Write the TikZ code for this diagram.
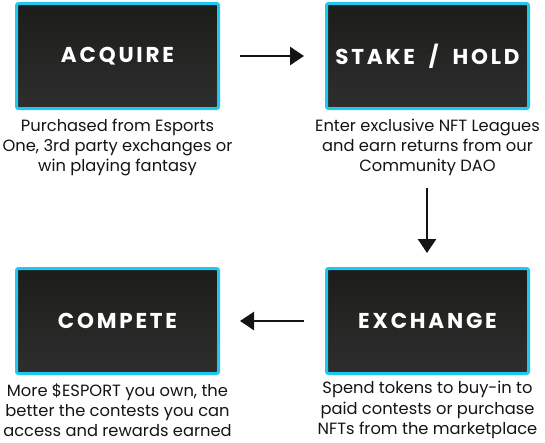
\documentclass[tikz,border=0pt]{standalone}
\usepackage{fontspec}
\setmainfont{Poppins}
\newfontfamily\titlefont[LetterSpace=13,WordSpace=1.9]{Poppins Bold}
\usetikzlibrary{arrows.meta}
\definecolor{cyanborder}{HTML}{1EC8EE}
\definecolor{boxtop}{HTML}{1C1C1A}
\definecolor{boxbot}{HTML}{2E2E2E}
\definecolor{txt}{HTML}{141414}
\tikzset{
  stagebox/.style={draw=cyanborder, line width=3pt, rounded corners=2pt,
    top color=boxtop, bottom color=boxbot, minimum width=202pt, minimum height=105pt,
    inner sep=0pt, text=white, font=\titlefont\fontsize{21.5}{24}\selectfont},
  caption/.style={align=center, text=txt, font=\fontsize{16.3}{20.3}\selectfont, inner sep=0pt},
  flow/.style={draw=txt, line width=2.6pt, -{Triangle[length=14pt,width=18pt]}, shorten >=0pt}
}
\begin{document}
\begin{tikzpicture}[x=1pt,y=-1pt]
\useasboundingbox (0,0) rectangle (545,442);
\node[stagebox] (acq) at (117.5,56) {ACQUIRE};
\node[stagebox] (stake) at (427.5,56) {STAKE / HOLD};
\node[stagebox] (comp) at (117.5,321) {COMPETE};
\node[stagebox] (exch) at (427.5,321) {EXCHANGE};
\node[caption] (cacq) at (117.5,147.5) {Purchased from Esports\\One, 3rd party exchanges or\\win playing fantasy};
\node[caption] (cstake) at (427.5,147.5) {Enter exclusive NFT Leagues\\and earn returns from our\\Community DAO};
\node[caption] (ccomp) at (117.5,410) {More \$ESPORT you own, the\\better the contests you can\\access and rewards earned};
\node[caption] (cexch) at (427.5,410) {Spend tokens to buy-in to\\paid contests or purchase\\NFTs from the marketplace};
\coordinate (a1s) at (240,56);
\coordinate (a1e) at (304,56);
\coordinate (a2s) at (427,188);
\coordinate (a2e) at (427,253);
\coordinate (a3s) at (304,321);
\coordinate (a3e) at (240,321);
\draw[flow] (a1s) -- (a1e);
\draw[flow] (a2s) -- (a2e);
\draw[flow] (a3s) -- (a3e);
\end{tikzpicture}
\end{document}
